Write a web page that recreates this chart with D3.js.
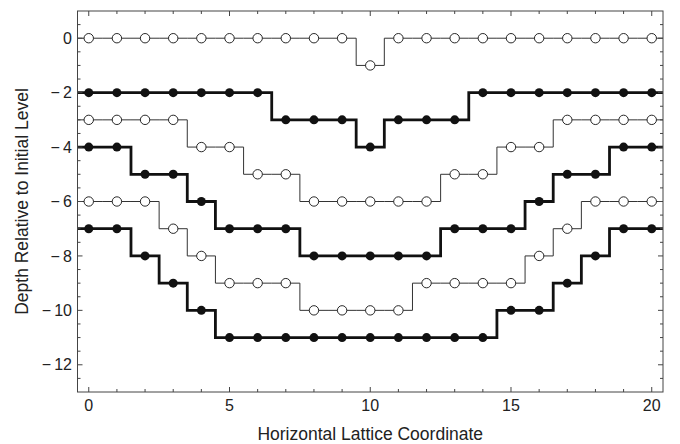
<!DOCTYPE html>
<html>
<head>
<meta charset="utf-8">
<script src="https://cdn.jsdelivr.net/npm/d3@7"></script>
<style>
  body { margin: 0; background: #fff; }
  text { font-family: "Liberation Sans", Arial, sans-serif; fill: #222; }
</style>
</head>
<body>
<div id="chart"></div>
<script>
const xs = d3.range(0, 21);

const s1 = [0, 0, 0, 0, 0, 0, 0, 0, 0, 0, -1, 0, 0, 0, 0, 0, 0, 0, 0, 0, 0];
const s2 = [-2, -2, -2, -2, -2, -2, -2, -3, -3, -3, -4, -3, -3, -3, -2, -2, -2, -2, -2, -2, -2];
const s3 = [-3, -3, -3, -3, -4, -4, -5, -5, -6, -6, -6, -6, -6, -5, -5, -4, -4, -3, -3, -3, -3];
const s4 = [-4, -4, -5, -5, -6, -7, -7, -7, -8, -8, -8, -8, -8, -7, -7, -7, -6, -5, -5, -4, -4];
const s5 = [-6, -6, -6, -7, -8, -9, -9, -9, -10, -10, -10, -10, -9, -9, -9, -9, -8, -7, -6, -6, -6];
const s6 = [-7, -7, -8, -9, -10, -11, -11, -11, -11, -11, -11, -11, -11, -11, -11, -10, -10, -9, -8, -7, -7];

const series = [
  { values: s1, filled: false },
  { values: s2, filled: true },
  { values: s3, filled: false },
  { values: s4, filled: true },
  { values: s5, filled: false },
  { values: s6, filled: true },
];

const xTicks = [0, 5, 10, 15, 20];
const yTicks = [0, -2, -4, -6, -8, -10, -12];

const width = 680, height = 444;
const margin = { top: 11, right: 17, bottom: 52, left: 77.5 };

const svg = d3.select("#chart").append("svg")
  .attr("width", width)
  .attr("height", height);

const x = d3.scaleLinear()
  .domain([-0.4, 20.4])
  .range([margin.left, width - margin.right]);

const y = d3.scaleLinear()
  .domain([-13, 1])
  .range([height - margin.bottom, margin.top]);

svg.append("clipPath").attr("id", "clip")
  .append("rect")
  .attr("x", margin.left).attr("y", margin.top)
  .attr("width", width - margin.left - margin.right)
  .attr("height", height - margin.top - margin.bottom);

// step lines
const line = d3.line()
  .x(d => x(d[0]))
  .y(d => y(d[1]))
  .curve(d3.curveStep);

const plot = svg.append("g").attr("clip-path", "url(#clip)");

series.forEach(s => {
  const pts = xs.map((xv, i) => [xv, s.values[i]]);
  pts.unshift([-1, s.values[0]]);
  pts.push([21, s.values[s.values.length - 1]]);
  plot.append("path")
    .attr("d", line(pts))
    .attr("fill", "none")
    .attr("stroke", s.filled ? "#111" : "#333")
    .attr("stroke-width", s.filled ? 2.8 : 1);
});

series.forEach(s => {
  plot.selectAll(null)
    .data(xs)
    .enter()
    .append("circle")
    .attr("cx", d => x(d))
    .attr("cy", (d, i) => y(s.values[i]))
    .attr("r", s.filled ? 4.5 : 4.7)
    .attr("fill", s.filled ? "#111" : "#fff")
    .attr("stroke", "#111")
    .attr("stroke-width", s.filled ? 0 : 0.9);
});

// frame
const x0 = margin.left, x1 = width - margin.right;
const y0 = margin.top, y1 = height - margin.bottom;

svg.append("rect")
  .attr("x", x0).attr("y", y0)
  .attr("width", x1 - x0).attr("height", y1 - y0)
  .attr("fill", "none")
  .attr("stroke", "#444")
  .attr("stroke-width", 1);

const ticks = svg.append("g").attr("stroke", "#444").attr("stroke-width", 1);

// x ticks (major every 5, minor every 1)
d3.range(0, 21).forEach(v => {
  const len = v % 5 === 0 ? 5 : 3;
  ticks.append("line").attr("x1", x(v)).attr("x2", x(v)).attr("y1", y1).attr("y2", y1 - len);
  ticks.append("line").attr("x1", x(v)).attr("x2", x(v)).attr("y1", y0).attr("y2", y0 + len);
});

// y ticks (major every 2, minor every 0.5)
d3.range(-25, 2).map(v => v / 2).forEach(v => {
  const len = v % 2 === 0 ? 5 : 3;
  ticks.append("line").attr("y1", y(v)).attr("y2", y(v)).attr("x1", x0).attr("x2", x0 + len);
  ticks.append("line").attr("y1", y(v)).attr("y2", y(v)).attr("x1", x1).attr("x2", x1 - len);
});

const fmt = v => (v < 0 ? "\u2212\u2009" + Math.abs(v) : String(v));

svg.append("g").selectAll("text")
  .data(xTicks).enter().append("text")
  .attr("x", d => x(d))
  .attr("y", 411)
  .attr("text-anchor", "middle")
  .attr("font-size", 16)
  .text(fmt);

svg.append("g").selectAll("text")
  .data(yTicks).enter().append("text")
  .attr("x", x0 - 5.5)
  .attr("y", d => y(d) + 5.7)
  .attr("text-anchor", "end")
  .attr("font-size", 16)
  .text(fmt);

svg.append("text")
  .attr("x", (x0 + x1) / 2)
  .attr("y", 440)
  .attr("text-anchor", "middle")
  .attr("font-size", 17.5)
  .text("Horizontal Lattice Coordinate");

svg.append("text")
  .attr("transform", "translate(28," + ((y0 + y1) / 2) + ")rotate(-90)")
  .attr("text-anchor", "middle")
  .attr("font-size", 17.5)
  .text("Depth Relative to Initial Level");
</script>
</body>
</html>
